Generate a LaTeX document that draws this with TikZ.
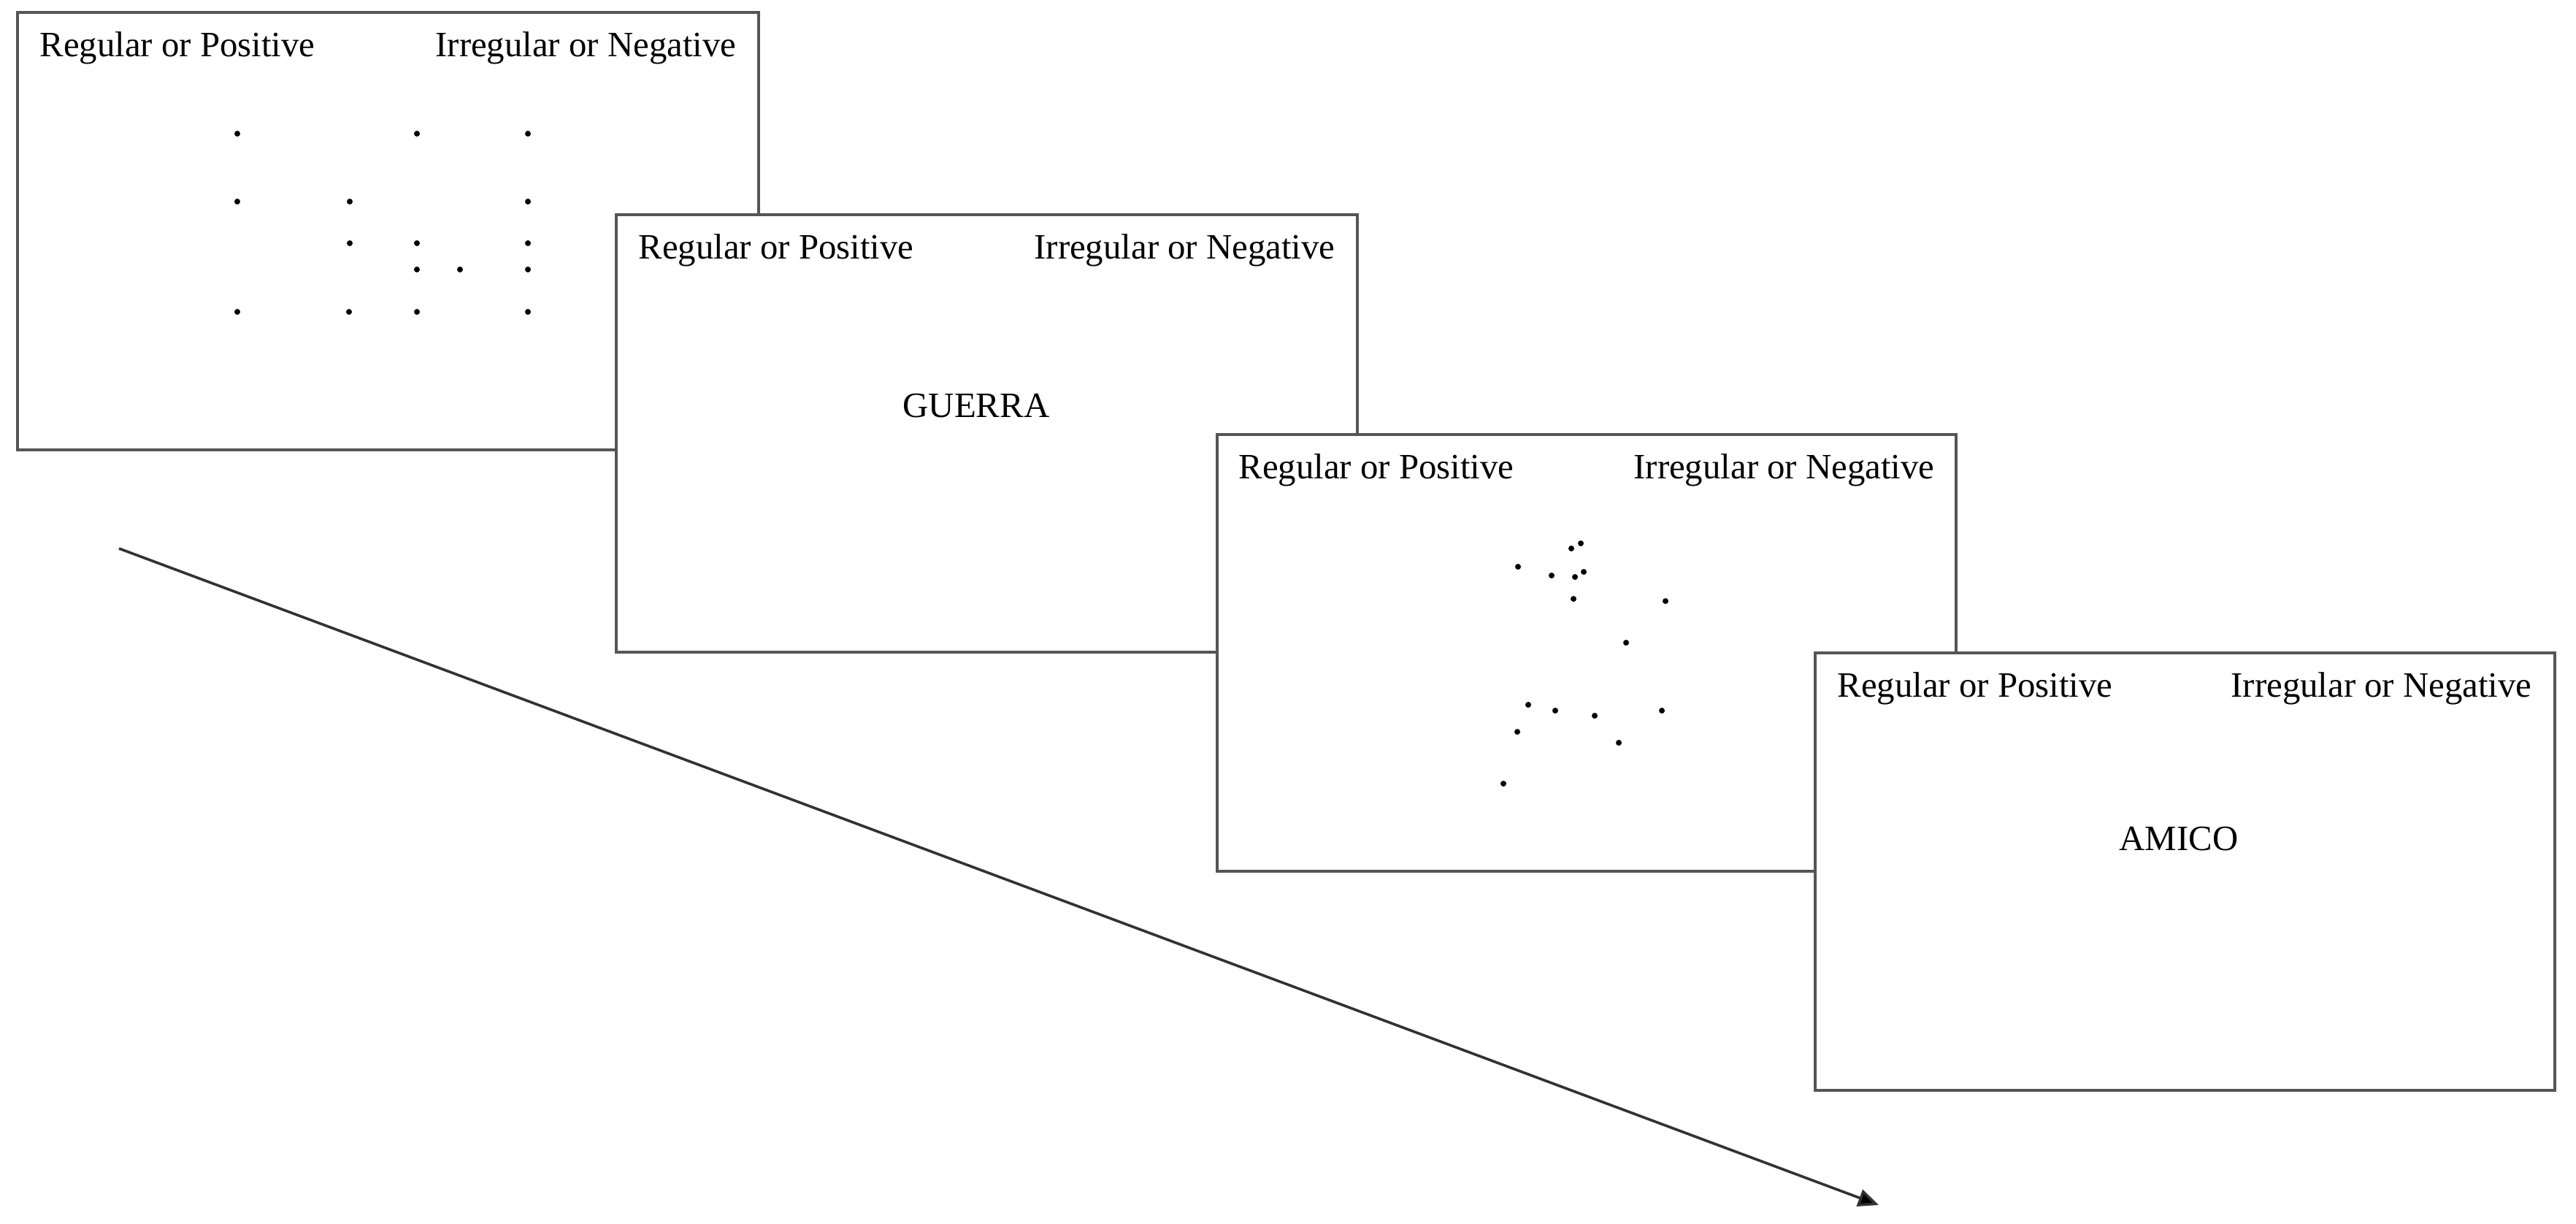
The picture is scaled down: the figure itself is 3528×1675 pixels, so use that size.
\documentclass[tikz,border=0pt]{standalone}
\usepackage{fontspec}
\setmainfont{Liberation Serif}
\usetikzlibrary{arrows.meta}

\tikzset{every picture/.style={line width=0.8pt}}
\tikzset{
	screen/.style={draw={rgb, 255:red, 85; green, 85; blue, 85 }, fill=white},
	label/.style={inner sep=0pt, font=\fontsize{12.2}{14}\selectfont},
	stimdot/.style={fill=black}}

\begin{document}
\begin{tikzpicture}[x=0.25pt,y=0.25pt,yscale=-1,xscale=1]
	\useasboundingbox (0,0) rectangle (3528,1675);

	% Time arrow
	\coordinate (tStart) at (163,751);
	\coordinate (tEnd) at (2573,1650);
	\draw [draw={rgb, 255:red, 50; green, 50; blue, 50 }, line width=0.9pt, -{Triangle[length=7pt,width=6pt,fill=black]}] (tStart) -- (tEnd);

	%Shape: Rectangle [id:screen1] 
	\draw [screen] (24,17) rectangle (1039,616);
	% Text Node
	\draw (53,77.5) node [label, anchor=base west] (regA) {Regular or Positive};
	% Text Node
	\draw (1010,77.5) node [label, anchor=base east] (irrA) {Irregular or Negative};
	% Regular dot pattern
	\foreach \x/\y in {325/183, 571/183, 723/183,
		325/276, 479/276, 723/276,
		479/333, 571/333, 723/333,
		571/369, 630/369, 723/369,
		325/427, 478/427, 571/427, 723/427}
		\fill [stimdot] (\x,\y) circle (4);

	%Shape: Rectangle [id:screen2] 
	\draw [screen] (844,294) rectangle (1859,893);
	% Text Node
	\draw (873,354.5) node [label, anchor=base west] (regB) {Regular or Positive};
	% Text Node
	\draw (1830,354.5) node [label, anchor=base east] (irrB) {Irregular or Negative};
	% Text Node
	\draw (1337,571) node [label, anchor=base] (wordB) {GUERRA};

	%Shape: Rectangle [id:screen3] 
	\draw [screen] (1667,595) rectangle (2679,1193);
	% Text Node
	\draw (1695,655.5) node [label, anchor=base west] (regC) {Regular or Positive};
	% Text Node
	\draw (2651,655.5) node [label, anchor=base east] (irrC) {Irregular or Negative};
	% Irregular dot pattern
	\foreach \x/\y in {2152/751, 2165/744, 2079/776, 2125/788,
		2157/790, 2169/783, 2155/820, 2281/823,
		2227/880, 2093/965, 2130/973, 2184/980,
		2276/973, 2078/1002, 2217/1017, 2059/1073}
		\fill [stimdot] (\x,\y) circle (4);

	%Shape: Rectangle [id:screen4] 
	\draw [screen] (2486,894) rectangle (3499,1493);
	% Text Node
	\draw (2515,954.5) node [label, anchor=base west] (regD) {Regular or Positive};
	% Text Node
	\draw (3469,954.5) node [label, anchor=base east] (irrD) {Irregular or Negative};
	% Text Node
	\draw (2984,1164.5) node [label, anchor=base] (wordD) {AMICO};

\end{tikzpicture}
\end{document}
